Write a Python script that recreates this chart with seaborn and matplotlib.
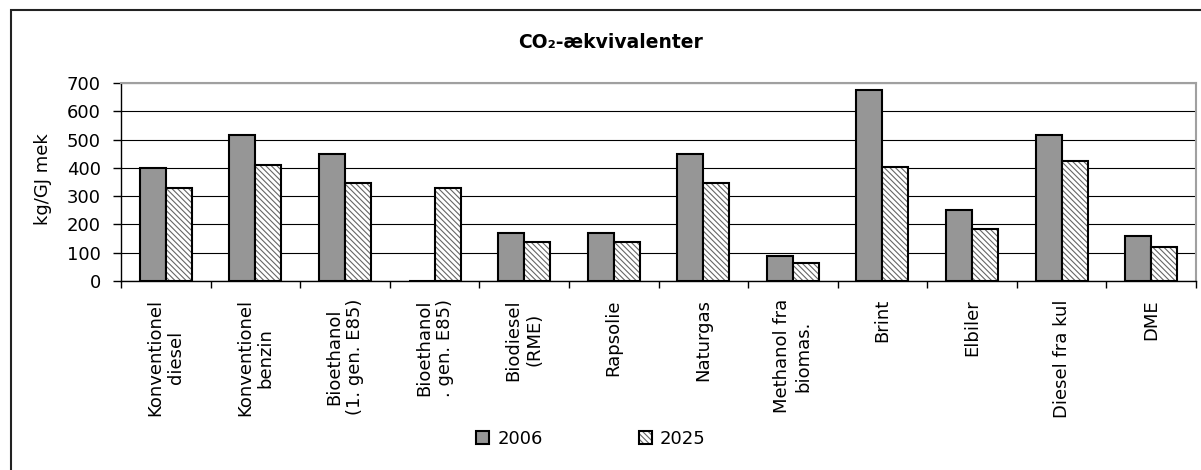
import pandas as pd
import matplotlib
matplotlib.use("Agg")
import matplotlib.pyplot as plt
from matplotlib.patches import Rectangle
import seaborn as sns

FUELS = [
    "Konventionel\ndiesel",
    "Konventionel\nbenzin",
    "Bioethanol\n(1. gen. E85)",
    "Bioethanol\n. gen. E85)",
    "Biodiesel\n(RME)",
    "Rapsolie",
    "Naturgas",
    "Methanol fra\nbiomas.",
    "Brint",
    "Elbiler",
    "Diesel fra kul",
    "DME",
]
YEARS = ["2006", "2025"]
VALUES_2006 = [400, 515, 450, 0, 168, 168, 450, 88, 675, 250, 515, 160]
VALUES_2025 = [330, 410, 346, 330, 137, 137, 346, 65, 403, 185, 424, 120]

TITLE = "CO₂-ækvivalenter"
Y_LABEL = "kg/GJ mek"
Y_TICKS = [0, 100, 200, 300, 400, 500, 600, 700]

df = pd.DataFrame({
    "fuel": FUELS * 2,
    "year": [YEARS[0]] * len(FUELS) + [YEARS[1]] * len(FUELS),
    "value": VALUES_2006 + VALUES_2025,
})

sns.set_style("white")
plt.rcParams["font.family"] = ["DejaVu Sans"]
plt.rcParams["hatch.linewidth"] = 0.8
for key in ["text.color", "axes.labelcolor", "xtick.color", "ytick.color"]:
    plt.rcParams[key] = "black"
FS = 13

W, H = 1201, 470
fig = plt.figure(figsize=(W / 100, H / 100), dpi=100)
ax = fig.add_axes([121 / W, 189 / H, 1075 / W, 198 / H])

sns.barplot(
    data=df, x="fuel", y="value", hue="year", order=FUELS, hue_order=YEARS,
    palette=["#969696", "white"], edgecolor="black", linewidth=1.5,
    width=0.58, gap=0, legend=False, ax=ax, zorder=3,
)
for bar in ax.containers[1]:
    bar.set_hatch("\\" * 6)
    # lighter hatch lines than the black outline
    if hasattr(bar, "_hatch_color"):
        bar._hatch_color = (0.4, 0.4, 0.4, 1.0)

ax.set_ylim(0, 700)
ax.set_yticks(Y_TICKS)
ax.set_xlim(-0.5, len(FUELS) - 0.5)
ax.set_xlabel("")
ax.set_ylabel("")

# horizontal gridlines
ax.yaxis.grid(True, color="black", linewidth=0.8)
ax.set_axisbelow(True)

for side in ["top", "right"]:
    ax.spines[side].set_color("#a0a0a0")
    ax.spines[side].set_linewidth(1.5)
for side in ["left", "bottom"]:
    ax.spines[side].set_color("black")
    ax.spines[side].set_linewidth(1.0)

ax.tick_params(axis="y", direction="out", length=6, width=1, pad=8.5,
               labelsize=FS, left=True, colors="black")
ax.set_xticks(range(len(FUELS)))
ax.set_xticklabels(FUELS, rotation=90, ha="center", va="top",
                   multialignment="center", fontsize=FS, color="black")
ax.tick_params(axis="x", which="major", length=0, pad=13)
ax.set_xticks([i + 0.5 for i in range(-1, len(FUELS))], minor=True)
ax.tick_params(axis="x", which="minor", direction="out", length=5,
               width=1, bottom=True, color="black")

fig.text(611 / W, 1 - 43 / H, TITLE, ha="center", va="center",
         fontsize=FS + 0.5, fontweight="bold", color="black")
fig.text(42.5 / W, 1 - 179.5 / H, Y_LABEL, ha="center", va="center",
         rotation=90, fontsize=FS, color="black")

fig.legend(
    handles=list(ax.containers), labels=YEARS, ncol=2, loc="center",
    bbox_to_anchor=(591 / W, 1 - 439 / H), frameon=False, fontsize=FS,
    handlelength=0.72, handleheight=0.72, handletextpad=0.45,
    columnspacing=5.3, labelcolor="black",
)

# outer chart frame
fig.patches.append(Rectangle(
    (11 / W, -0.1), 1.2, 1 - 10 / H + 0.1, transform=fig.transFigure,
    fill=False, edgecolor="#222222", linewidth=1.5,
))

fig.savefig("out.png", dpi=100)
